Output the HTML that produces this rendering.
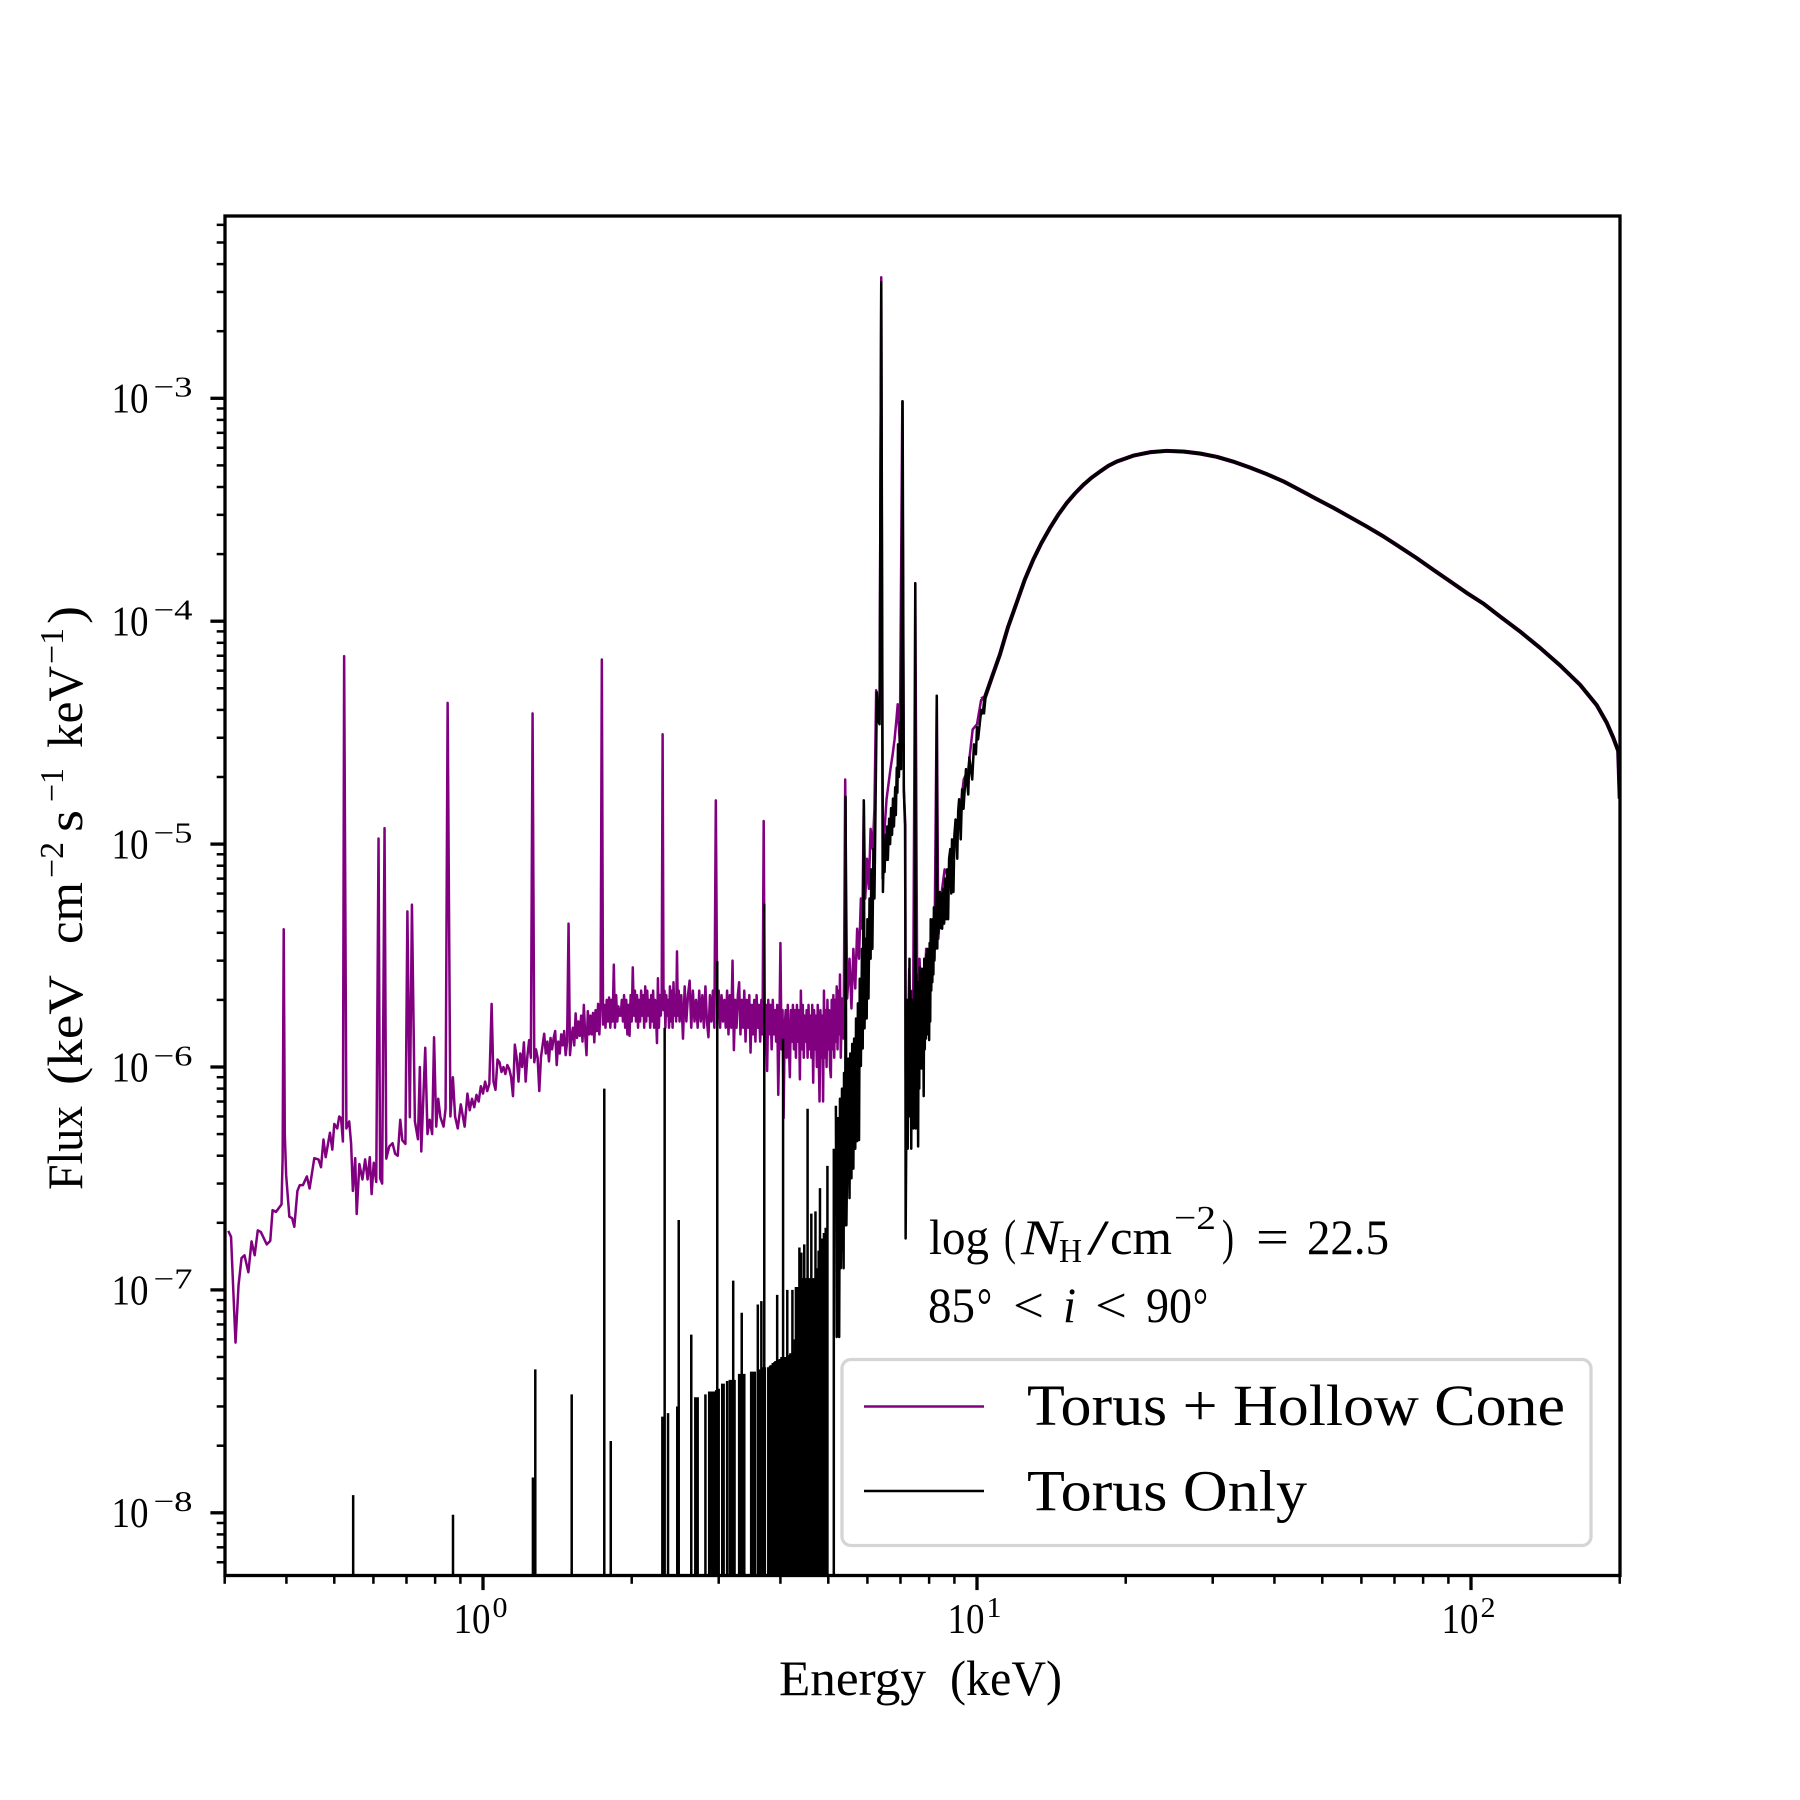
<!DOCTYPE html>
<html lang="en"><head><meta charset="utf-8"><title>X-ray spectrum</title>
<style>
html,body{margin:0;padding:0;background:#fff;width:1800px;height:1800px;overflow:hidden}
svg{display:block;overflow:hidden}
text{font-family:"Liberation Serif",serif;fill:#000}
</style></head>
<body>
<svg id="chart" xmlns="http://www.w3.org/2000/svg" width="1800" height="1800" viewBox="0 0 1800 1800">
<defs><clipPath id="plot-clip"><rect x="225" y="216" width="1395" height="1359.5"/></clipPath></defs>
<rect x="0" y="0" width="1800" height="1800" fill="#fff"/>
<g id="series" clip-path="url(#plot-clip)"></g>
<g id="ticks"></g>
<rect x="225" y="216" width="1395" height="1359.5" fill="none" stroke="#000" stroke-width="3.3"/>

<g font-size="50">
<text x="779" y="1695" textLength="147" lengthAdjust="spacingAndGlyphs">Energy</text>
<text x="950" y="1695" textLength="112" lengthAdjust="spacingAndGlyphs">(keV)</text>
</g>

<g font-size="50">
<text transform="translate(82,1190) rotate(-90)" textLength="84" lengthAdjust="spacingAndGlyphs">Flux</text>
<text transform="translate(82,1085) rotate(-90)" textLength="110" lengthAdjust="spacingAndGlyphs">(keV</text>
<text transform="translate(82,944) rotate(-90)" textLength="62" lengthAdjust="spacingAndGlyphs">cm</text>
<text font-size="34" transform="translate(63,878) rotate(-90)" textLength="36" lengthAdjust="spacingAndGlyphs">−2</text>
<text transform="translate(82,832) rotate(-90)" textLength="22" lengthAdjust="spacingAndGlyphs">s</text>
<text font-size="34" transform="translate(63,802) rotate(-90)" textLength="34" lengthAdjust="spacingAndGlyphs">−1</text>
<text transform="translate(82,748) rotate(-90)" textLength="82" lengthAdjust="spacingAndGlyphs">keV</text>
<text font-size="34" transform="translate(63,664) rotate(-90)" textLength="36" lengthAdjust="spacingAndGlyphs">−1</text>
<text transform="translate(82,624) rotate(-90)" textLength="18" lengthAdjust="spacingAndGlyphs">)</text>
</g>

<g font-size="50">
<text x="929" y="1254" textLength="60" lengthAdjust="spacingAndGlyphs">log</text>
<text x="1004" y="1254" textLength="12" lengthAdjust="spacingAndGlyphs">(</text>
<text x="1021" y="1254" font-style="italic" textLength="40" lengthAdjust="spacingAndGlyphs">N</text>
<text x="1059" y="1262" font-size="34" textLength="23" lengthAdjust="spacingAndGlyphs">H</text>
<text x="1087" y="1254" textLength="22" lengthAdjust="spacingAndGlyphs">/</text>
<text x="1110" y="1254" textLength="62" lengthAdjust="spacingAndGlyphs">cm</text>
<text x="1174" y="1229" font-size="34" textLength="42" lengthAdjust="spacingAndGlyphs">−2</text>
<text x="1222" y="1254" textLength="12" lengthAdjust="spacingAndGlyphs">)</text>
<text x="1256" y="1254" textLength="33" lengthAdjust="spacingAndGlyphs">=</text>
<text x="1307" y="1254" textLength="82" lengthAdjust="spacingAndGlyphs">22.5</text>
</g>
<g font-size="50">
<text x="928" y="1322" textLength="47" lengthAdjust="spacingAndGlyphs">85</text>
<text x="977" y="1322" textLength="15" lengthAdjust="spacingAndGlyphs">°</text>
<text x="1013" y="1322" textLength="31" lengthAdjust="spacingAndGlyphs">&lt;</text>
<text x="1063" y="1322" font-style="italic" textLength="13" lengthAdjust="spacingAndGlyphs">i</text>
<text x="1095" y="1322" textLength="32" lengthAdjust="spacingAndGlyphs">&lt;</text>
<text x="1146" y="1322" textLength="46" lengthAdjust="spacingAndGlyphs">90</text>
<text x="1193" y="1322" textLength="15" lengthAdjust="spacingAndGlyphs">°</text>
</g>

<g>
<rect x="842" y="1359.5" width="749" height="186" rx="9" ry="9" fill="#fff" fill-opacity="0.8" stroke="#d5d5d5" stroke-width="3.3"/>
<line x1="864" y1="1406.5" x2="984" y2="1406.5" stroke="#800080" stroke-width="2.5"/>
<text x="1027" y="1425" font-size="58" textLength="538" lengthAdjust="spacingAndGlyphs">Torus + Hollow Cone</text>
<line x1="864" y1="1491" x2="984" y2="1491" stroke="#000" stroke-width="2.5"/>
<text x="1027" y="1510.5" font-size="58" textLength="280" lengthAdjust="spacingAndGlyphs">Torus Only</text>
</g>
</svg>

<script>
// Axis tick data
const xTickExponents = [0, 1, 2];
const yTickExponents = [-3, -4, -5, -6, -7, -8];
const xMinorDecades = [-1, 0, 1, 2];
const yMinorDecades = [-9, -8, -7, -6, -5, -4, -3];
const minorMultipliers = [2, 3, 4, 5, 6, 7, 8, 9];

// Torus + Hollow Cone, soft end: energy in keV, flux
const purpleLowEnergy = [
.305,.309,.3155,.32,.3245,.329,.335,.34,.345,.35,
.355,.365,.371,.375,.381,.391,.393,.395,.397,.3995,
.4055,.4107,.415,.421,.4256,.432,.44,.4456,.4555,.4645,
.47,.4754,.4803,.49,.4954,.5,.507,.5116,.516,.5205,
.5235,.529,.536,.5408,.5452,.5512,.555,.562,.57,.5773,
.584,.59,.595,.601,.608,.6145,.619,.625,.632,.637,
.646,.656,.664,.672,.68,.6866,.6966,.703,.711,.718,
.728,.7385,.745,.75,.764,.772,.78,.789,.796,.804,
.8116,.82,.832,.84,.848,.859,.869,.878,.889,.9017,
.918,.93,.94,.95,.96,.97,.98,.99,1.0,1.01,
1.02,1.03,1.041,1.05,1.06];
const purpleLowFlux = [
1.84e-7,1.73e-7,5.8e-8,1.05e-7,1.39e-7,1.43e-7,1.2e-7,1.65e-7,1.43e-7,1.85e-7,
1.82e-7,1.6e-7,1.66e-7,2.28e-7,2.24e-7,2.42e-7,3.9e-7,4.15e-6,5e-7,3.27e-7,
2.13e-7,2.1e-7,1.92e-7,2.78e-7,2.95e-7,2.95e-7,3.23e-7,2.85e-7,3.9e-7,3.85e-7,
3.55e-7,4.73e-7,3.94e-7,5.07e-7,4.26e-7,5.55e-7,5.3e-7,6e-7,5.9e-7,4.63e-7,
6.97e-5,5.3e-7,5.7e-7,4.52e-7,2.78e-7,3.9e-7,2.19e-7,3.67e-7,3.13e-7,3.85e-7,
3.13e-7,3.94e-7,2.69e-7,3.72e-7,3.05e-7,1.06e-5,3.17e-7,3e-7,1.18e-5,3.88e-7,
4.4e-7,4.55e-7,4.08e-7,4e-7,5.8e-7,4.69e-7,4.52e-7,4.99e-6,5.95e-7,5.35e-6,
5.7e-7,4.74e-7,1e-6,4.18e-7,1.22e-6,5e-7,5.8e-7,5e-7,1.36e-6,5.4e-7,
7.2e-7,5.95e-7,5.4e-7,6.5e-7,4.3e-5,6e-7,9e-7,6e-7,5.3e-7,6.8e-7,
5.4e-7,7.6e-7,6.4e-7,7.2e-7,6.6e-7,7.5e-7,7e-7,8.2e-7,7.6e-7,8.6e-7,
7.8e-7,8.4e-7,1.92e-6,8.6e-7,7.9e-7];

// Flux unit for the two plateau arrays below
const bandFluxUnit = 1e-6;

// Torus + Hollow Cone, rising shoulder: energy in keV, flux in bandFluxUnit
const purpleMidEnergy = [
1.07,1.08,1.09,1.10,1.11,1.12,1.13,1.14,1.15,1.16,
1.17,1.18,1.19,1.20,1.21,1.22,1.23,1.24,1.25,1.26,
1.27,1.28,1.29,1.30,1.31,1.32,1.33,1.34,1.35,1.36,
1.37,1.38,1.39,1.40,1.41,1.42,1.43,1.44,1.45,1.46,
1.47,1.48,1.49,1.50,1.51,1.52,1.53,1.54,1.55,1.56,
1.57,1.58,1.59,1.60,1.61,1.62,1.63,1.64,1.65,1.66,
1.67,1.68,1.69,1.70,1.71,1.72,1.73,1.74,1.75,1.76,
1.77,1.78,1.79,1.80,1.81,1.82,1.83,1.84,1.85,1.86,
1.87,1.88,1.89];
const purpleMidFlux = [
1.08,1.05,.95,1.0,.93,1.02,.98,.9,.74,1.26,
1.1,.86,1.15,1.0,1.29,.86,1.12,1.32,1.1,38.6,
1.05,1.2,1.1,.78,1.1,1.25,1.41,1.15,1.3,1.06,
1.35,1.2,1.35,1.45,1.02,1.3,1.15,1.4,1.25,1.45,
1.13,1.3,4.4,1.13,1.35,1.5,1.25,1.74,1.35,1.6,
1.38,1.7,1.3,1.9,1.4,1.13,1.78,1.4,1.7,1.4,
1.75,1.29,1.8,1.45,1.92,1.4,1.85,67.3,1.55,1.9,
1.5,2.0,1.6,2.05,1.5,2.0,1.6,2.88,1.5,2.1,
1.6,1.87,1.7];

// Torus + Hollow Cone, noisy plateau: energy in keV, flux in bandFluxUnit
const purpleBandEnergy = [
1.90,1.91,1.92,1.93,1.94,1.95,1.96,1.97,1.98,1.99,
2.00,2.01,2.02,2.03,2.04,2.05,2.06,2.07,2.08,2.09,
2.10,2.11,2.12,2.13,2.14,2.15,2.16,2.17,2.18,2.19,
2.20,2.21,2.22,2.23,2.24,2.25,2.26,2.27,2.28,2.29,
2.30,2.31,2.32,2.33,2.34,2.35,2.36,2.37,2.38,2.39,
2.40,2.41,2.42,2.43,2.44,2.45,2.46,2.47,2.48,2.49,
2.50,
2.52,2.54,2.56,2.58,2.60,2.62,2.64,2.66,2.68,2.70,
2.72,2.74,2.76,2.78,2.80,2.82,2.84,2.86,2.88,2.90,
2.92,2.94,2.96,2.98,3.00,3.02,3.04,3.06,3.08,3.10,
3.12,3.14,3.16,3.18,3.20,3.22,3.24,3.26,3.28,3.30,
3.32,3.34,3.36,3.38,3.40,3.42,3.44,3.46,3.48,3.50,
3.52,3.54,3.56,3.58,3.60,3.62,3.64,3.66,3.68,3.70,
3.72,3.74,3.76,3.78,3.80,3.82,3.84,3.86,3.88,3.90,
3.92,3.94,3.96,3.98,4.00,4.02,4.04,4.06,4.08,4.10,
4.12,4.14,4.16,4.18,4.20,4.22,4.24,4.26,4.28,4.30,
4.32,4.34,4.36,4.38,4.40,4.42,4.44,4.46,4.48,4.50,
4.52,4.54,4.56,4.58,4.60,4.62,4.64,4.66,4.68,4.70,
4.72,4.74,4.76,4.78,4.80,4.82,4.84,4.86,4.88,4.90,
4.92,4.94,4.96,4.98,5.00,5.02,5.04,5.06,5.08,5.10,
5.12,5.14,5.16,5.18,5.20,5.22,5.24,5.26,5.28,5.30];
const purpleBandFlux = [
1.7,2.0,1.6,2.1,1.5,2.0,1.4,1.9,1.38,2.1,
1.6,2.8,1.7,2.2,1.6,2.1,1.5,2.0,1.6,2.2,
1.7,2.1,1.5,2.3,1.6,2.2,1.7,2.0,1.5,2.1,
1.6,2.2,1.5,2.0,1.7,1.28,2.5,1.5,2.1,1.7,
2.0,31.1,1.8,2.2,1.5,2.1,1.7,2.0,1.5,2.3,
1.6,2.2,1.5,2.4,1.7,2.1,1.6,3.3,1.7,2.2,
1.6,
2.1,1.34,2.3,1.6,2.1,2.44,1.5,2.2,1.6,2.0,
1.5,2.2,1.6,2.1,1.5,2.3,1.6,1.36,2.1,1.6,
2.2,1.5,15.7,1.7,2.2,1.5,2.1,1.6,2.0,1.5,
2.2,1.4,2.1,1.5,3.0,1.19,2.0,1.5,2.1,2.4,
1.4,2.0,1.5,2.2,1.3,2.0,1.5,2.1,1.16,1.9,
1.4,2.0,1.3,2.1,1.5,1.9,1.3,2.0,1.4,12.7,
1.4,1.9,0.96,2.0,1.4,1.9,1.2,2.0,1.4,1.8,
1.3,1.9,0.75,1.4,3.6,1.2,1.8,0.59,1.5,1.8,
1.1,1.9,1.3,0.9,1.8,1.3,1.9,1.2,1.8,1.1,
1.9,1.3,1.8,0.88,2.2,1.2,1.9,1.1,1.7,1.3,
1.8,1.1,1.9,1.2,1.7,1.1,1.9,0.85,1.8,1.2,
1.7,1.0,1.9,1.2,0.7,1.8,1.1,1.7,0.7,2.2,
1.1,1.8,1.0,2.0,1.2,1.8,1.0,0.9,2.0,1.2,
2.1,1.1,2.0,1.3,2.3,1.2,2.2,1.4,2.6,1.1];

// Torus + Hollow Cone, iron complex and rise
const purpleRiseEnergy = [
5.33,5.37,5.41,5.46,5.52,5.57,5.62,5.67,5.72,5.77,
5.82,5.86,5.90,5.94,5.99,6.04,6.09,6.15,6.20,6.25,
6.30,6.35,6.40,6.44,6.50,6.56,6.62,6.68,6.75,6.81,
6.87,6.91,6.98,7.06,7.11,7.16,7.17,7.18,7.22,7.29,
7.36,7.43,7.50,7.57,7.65,7.77,7.89,8.0,8.1,8.2,
8.29,8.35,8.45,8.6,8.8,9,9.2,9.4,9.6,9.8,
10,10.2];
const purpleRiseFlux = [
2.03e-6,1.34e-6,1.95e-5,2.03e-6,3.06e-6,1.83e-6,3.39e-6,2.25e-6,4.17e-6,3.06e-6,
5.7e-6,4.17e-6,1.57e-5,5.7e-6,8.6e-6,6.3e-6,1.17e-5,9.5e-6,1.44e-5,4.9e-5,
3.82e-5,3.63e-5,3.49e-3,7e-6,1.17e-5,1.59e-5,1.86e-5,2.17e-5,2.53e-5,2.95e-5,
3.63e-5,4.24e-5,2.8e-5,9.7e-4,1.76e-5,1.21e-5,1e-6,6.9e-7,7.2e-7,2.76e-6,
8.9e-7,2.25e-6,1.48e-4,1.83e-6,3.06e-6,1.34e-6,3.39e-6,2.03e-6,3.97e-6,3.06e-6,
4.63e-5,3.76e-6,5.7e-6,7.7e-6,7e-6,1.05e-5,1.29e-5,1.95e-5,2.17e-5,3.27e-5,
3.45e-5,4.47e-5];

// Hard continuum shared by both models
const continuumEnergy = [
10.38,10.75,11.13,11.55,12.03,12.5,13,13.5,14.05,14.6,
15.19,15.8,16.42,17.05,17.74,18.45,19.18,20.72,22.4,24.2,
26.2,28.3,30.6,33,35.7,38.6,41.7,45.1,48.7,52.6,
56.9,61.5,66.5,71.8,77.6,83.9,90.7,98,105.9,114.5,
125.6,138,151.4,166.2,179.7,188.2,194.1,198.6,200];
const continuumFlux = [
4.56e-5,5.71e-5,7.1e-5,9.38e-5,1.21e-4,1.54e-4,1.89e-4,2.24e-4,2.62e-4,3e-4,
3.39e-4,3.75e-4,4.09e-4,4.4e-4,4.69e-4,4.98e-4,5.2e-4,5.53e-4,5.73e-4,5.81e-4,
5.77e-4,5.65e-4,5.46e-4,5.2e-4,4.89e-4,4.57e-4,4.24e-4,3.87e-4,3.53e-4,3.23e-4,
2.93e-4,2.66e-4,2.4e-4,2.15e-4,1.92e-4,1.7e-4,1.51e-4,1.34e-4,1.2e-4,1.05e-4,
9e-5,7.59e-5,6.34e-5,5.19e-5,4.2e-5,3.51e-5,3e-5,2.62e-5,1.6e-5];

// Torus Only: sparse bins whose neighbours are empty (drawn down past the axis)
const blackEmptyBinFlux = 5e-9;
const blackStemEnergy = [
.546,.8695,1.262,1.276,1.512,1.76,1.814,2.307,2.332,2.369,
2.473,2.49,2.64,2.69,2.705,2.72,2.82,2.87,2.885,2.90,
2.915,2.93,2.94,2.95,2.965,2.98,3.0,3.05,3.06,3.07,
3.12,3.16,3.175,3.19,3.20,3.21,3.23,3.30,3.315,3.34,
3.355,3.38,3.49,3.505,3.52,3.535,3.55,3.60,3.615,3.63,
3.645,3.66,3.68,3.71,3.72,3.78,3.795,3.81,3.825,3.84,
3.86,3.875,3.89,3.91,3.94,3.96,3.99,4.02,4.05,4.07,
4.10,4.13,4.16,4.19,4.23,4.25,4.28,4.30,4.33,4.37,
4.41,4.45,4.47,4.52,4.54,4.58,4.62,4.66,4.71,4.74,
4.78,4.81,4.86,4.90,4.94,4.98,5.13];
const blackStemFlux = [
1.2e-8,.98e-8,1.44e-8,4.4e-8,3.4e-8,8e-7,2.1e-8,2.7e-8,1.5e-6,2.8e-8,
3e-8,2.06e-7,6.3e-8,3.3e-8,3.3e-8,3.3e-8,3.4e-8,3.5e-8,3.5e-8,3.5e-8,
3.5e-8,3.5e-8,3.5e-8,3.5e-8,3.55e-8,2.98e-6,3.6e-8,3.8e-8,3.8e-8,3.8e-8,
3.9e-8,3.95e-8,3.95e-8,3.95e-8,3.95e-8,1.1e-7,3.95e-8,4.2e-8,4.2e-8,7.9e-8,
4.2e-8,4.2e-8,4.3e-8,4.3e-8,4.3e-8,4.3e-8,4.3e-8,8.6e-8,4.4e-8,4.4e-8,
4.4e-8,8.9e-8,4.5e-8,5.4e-6,4.5e-8,4.5e-8,4.5e-8,4.55e-8,4.6e-8,4.6e-8,
4.7e-8,4.7e-8,4.75e-8,4.8e-8,9.5e-8,4.85e-8,4.9e-8,5e-8,1.34e-6,5e-8,
5e-8,1e-7,5.1e-8,5.2e-8,1e-7,5.2e-8,6e-8,1.03e-7,1.03e-7,1.55e-7,
1.47e-7,1.13e-7,1.6e-7,1.13e-7,6.5e-7,1.13e-7,2.2e-7,1.13e-7,2.25e-7,1.25e-7,
1.5e-7,2.86e-7,1.7e-7,1.8e-7,1.9e-7,3.6e-7,4.3e-7];

// Torus Only: noisy rise through the iron complex
const blackBandEnergy = [
5.18,5.20,5.23,5.26,5.28,5.30,5.33,5.37,5.38,5.41,
5.42,5.44,5.49,5.52,5.54,5.57,5.59,5.62,5.64,5.67,
5.69,5.72,5.74,5.77,5.79,5.82,5.85,5.87,5.90,5.92,
5.95,5.98,6.00,6.03,6.06,6.09,6.11,6.14,6.17,6.20,
6.27,6.30,6.35,6.40,6.45,6.48,6.50,6.53,6.56,6.58,
6.60,6.64,6.67,6.70,6.73,6.76,6.79,6.83,6.85,6.88,
6.90,6.92,6.95,6.99,7.02,7.07,7.11,7.15,7.16,7.17,
7.22,7.24,7.26,7.28,7.30,7.32,7.34,7.36,7.38,7.40,
7.42,7.44,7.46,7.48,7.50,7.52,7.54,7.56,7.58,7.60,
7.62,7.64,7.66,7.68,7.70,7.72,7.74,7.76,7.78,7.80,
7.82,7.84,7.86,7.88,7.90,7.92,7.94,7.96,7.98,8.00,
8.02,8.04,8.06,8.08,8.10,8.12,8.14,8.16,8.18,8.20,
8.22,8.24,8.26,8.29,8.31,8.33,8.35,8.40,8.43,8.47,
8.50,8.55,8.58,8.62,8.66,8.70,8.74,8.78,8.83,8.87,
8.90,8.96,9.00,9.05,9.12,9.16,9.20,9.27,9.33,9.39,
9.50,9.60,9.65,9.78,9.86,9.95,10.0,10.05,10.2,10.3];
const blackBandFlux = [
6.7e-7,6.15e-8,5.9e-7,6.15e-8,7.2e-7,1.25e-7,8e-7,1.25e-7,9.4e-7,1.95e-7,
1.63e-5,1.95e-7,1.09e-6,2.58e-7,1.15e-6,3.17e-7,1.27e-6,3.5e-7,1.34e-6,4.3e-7,
1.65e-6,4.65e-7,1.93e-6,4.7e-7,2.49e-6,1.01e-6,3.39e-6,1.21e-6,1.57e-5,1.49e-6,
3.76e-6,1.65e-6,4.6e-6,2.03e-6,5.7e-6,3.06e-6,7.7e-6,3.39e-6,9.5e-6,5.7e-6,
4.8e-5,3.63e-5,3.45e-5,3.32e-3,6.1e-6,1e-5,7.5e-6,1.1e-5,8.5e-6,1.2e-5,
8.5e-6,1.3e-5,1e-5,1.45e-5,1.1e-5,1.6e-5,1.2e-5,1.8e-5,1.35e-5,2.2e-5,
1.7e-5,2.8e-5,2e-5,3.5e-5,2.17e-5,9.7e-4,1.76e-5,1.21e-5,4.6e-6,1.7e-7,
2e-6,4.3e-7,1.6e-6,6e-7,3.06e-6,7e-7,2.2e-6,4.3e-7,2e-6,9e-7,
1.83e-6,5.3e-7,2.2e-6,6e-7,1.48e-4,5.3e-7,2.6e-6,7e-7,2.03e-6,4.4e-7,
2.4e-6,8e-7,2.8e-6,1e-6,2.6e-6,9.85e-7,2.76e-6,1.1e-6,2.5e-6,7.4e-7,
3.06e-6,1.2e-6,2.6e-6,1.34e-6,3.2e-6,1.4e-6,3.39e-6,1.6e-6,3e-6,1.32e-6,
3.6e-6,1.6e-6,4.6e-6,2.2e-6,4e-6,2.4e-6,4.6e-6,2.6e-6,5.2e-6,3e-6,
4.6e-6,3.39e-6,5e-6,4.63e-5,3.4e-6,5.5e-6,3.97e-6,6.1e-6,4.2e-6,6e-6,
4.17e-6,6.3e-6,4.4e-6,7e-6,4.6e-6,7.7e-6,4.6e-6,8.6e-6,9.5e-6,6e-6,
1.05e-5,6.1e-6,1.1e-5,1.29e-5,8.6e-6,1.4e-5,1.59e-5,1.05e-5,1.76e-5,1.44e-5,
2.17e-5,1.67e-5,2.45e-5,1.95e-5,2.8e-5,2.53e-5,3.35e-5,2.95e-5,4e-5,3.82e-5];

// Axis functions
const SVGNS = 'http://www.w3.org/2000/svg';
function xScale(energy){ return 483 + 494 * Math.log10(energy); }
function yScale(flux){ return 398.3 + (-3 - Math.log10(flux)) * 222.9; }
const xMinEnergy = 0.3, xMaxEnergy = 200;
const plotBottom = 1575.5, plotLeft = 225;

function linePath(energies, fluxes, scale){
  const n = Math.min(energies.length, fluxes.length);
  let d = '';
  for (let i = 0; i < n; i++) {
    d += (i ? 'L' : 'M') + xScale(energies[i]).toFixed(2) + ' ' + yScale(fluxes[i] * (scale || 1)).toFixed(2);
  }
  return d;
}
function continuePath(energies, fluxes, scale){
  return linePath(energies, fluxes, scale).replace(/^M/, 'L');
}

const seriesGroup = document.getElementById('series');
const tickGroup = document.getElementById('ticks');

// Purple series
const purplePath = document.createElementNS(SVGNS, 'path');
purplePath.setAttribute('d', linePath(purpleLowEnergy, purpleLowFlux) + continuePath(purpleMidEnergy, purpleMidFlux, bandFluxUnit) + continuePath(purpleBandEnergy, purpleBandFlux, bandFluxUnit) + continuePath(purpleRiseEnergy, purpleRiseFlux));
purplePath.setAttribute('fill', 'none');
purplePath.setAttribute('stroke', '#800080');
purplePath.setAttribute('stroke-width', '2.5');
purplePath.setAttribute('stroke-linejoin', 'round');


seriesGroup.appendChild(purplePath);

const purpleContinuum = document.createElementNS(SVGNS, 'path');
purpleContinuum.setAttribute('d', 'M' + xScale(purpleRiseEnergy[purpleRiseEnergy.length - 1]).toFixed(2) + ' ' + yScale(purpleRiseFlux[purpleRiseFlux.length - 1]).toFixed(2) + continuePath(continuumEnergy, continuumFlux));
purpleContinuum.setAttribute('fill', 'none');
purpleContinuum.setAttribute('stroke', '#800080');
purpleContinuum.setAttribute('stroke-width', '4.1');
purpleContinuum.setAttribute('stroke-linejoin', 'round');


seriesGroup.appendChild(purpleContinuum);

// Black series: sparse bins
let stemD = '';
const stemCount = Math.min(blackStemEnergy.length, blackStemFlux.length);
for (let i = 0; i < stemCount; i++) {
  const sx = xScale(blackStemEnergy[i]).toFixed(2);
  stemD += 'M' + sx + ' ' + yScale(blackEmptyBinFlux).toFixed(2) + 'L' + sx + ' ' + yScale(blackStemFlux[i]).toFixed(2);
}
const stemPath = document.createElementNS(SVGNS, 'path');
stemPath.setAttribute('d', stemD);
stemPath.setAttribute('fill', 'none');
stemPath.setAttribute('stroke', '#000');
stemPath.setAttribute('stroke-width', '2.5');


seriesGroup.appendChild(stemPath);

const blackBandPath = document.createElementNS(SVGNS, 'path');
blackBandPath.setAttribute('d', linePath(blackBandEnergy, blackBandFlux));
blackBandPath.setAttribute('fill', 'none');
blackBandPath.setAttribute('stroke', '#000');
blackBandPath.setAttribute('stroke-width', '2.5');
blackBandPath.setAttribute('stroke-linejoin', 'round');


seriesGroup.appendChild(blackBandPath);

const blackContinuum = document.createElementNS(SVGNS, 'path');
blackContinuum.setAttribute('d', 'M' + xScale(blackBandEnergy[blackBandEnergy.length - 1]).toFixed(2) + ' ' + yScale(blackBandFlux[blackBandFlux.length - 1]).toFixed(2) + continuePath(continuumEnergy, continuumFlux));
blackContinuum.setAttribute('fill', 'none');
blackContinuum.setAttribute('stroke', '#000');
blackContinuum.setAttribute('stroke-width', '3.6');
blackContinuum.setAttribute('stroke-linejoin', 'round');


seriesGroup.appendChild(blackContinuum);

// Ticks
function addTick(x1, y1, x2, y2, w, name){
  const t = document.createElementNS(SVGNS, 'line');
  t.setAttribute('x1', x1);
  t.setAttribute('y1', y1);
  t.setAttribute('x2', x2);
  t.setAttribute('y2', y2);
  t.setAttribute('stroke', '#000');
  t.setAttribute('stroke-width', w);
  
  
  tickGroup.appendChild(t);
}
function addLabel(x, y, str, size, len, name){
  const t = document.createElementNS(SVGNS, 'text');
  t.setAttribute('x', x);
  t.setAttribute('y', y);
  t.setAttribute('font-size', size);
  t.setAttribute('textLength', len);
  t.setAttribute('lengthAdjust', 'spacingAndGlyphs');
  t.textContent = str;
  
  
  tickGroup.appendChild(t);
}
xTickExponents.forEach(function(k){
  const px = xScale(Math.pow(10, k));
  addTick(px, plotBottom, px, plotBottom + 14.6, 3.3, 'x-major-tick');
  addLabel(px - 29.5, 1633, '10', 42, 37, 'x-tick-label');
  addLabel(px + 9.5, 1617, String(k), 29, 15, 'x-tick-exponent');
});
xMinorDecades.forEach(function(k){
  minorMultipliers.forEach(function(m){
    const v = m * Math.pow(10, k);
    if (v < xMinEnergy || v > xMaxEnergy) return;
    const px = xScale(v);
    addTick(px, plotBottom, px, plotBottom + 8.3, 2.5, 'x-minor-tick');
  });
});
yTickExponents.forEach(function(k){
  const py = yScale(Math.pow(10, k));
  addTick(plotLeft, py, plotLeft - 14.6, py, 3.3, 'y-major-tick');
  addLabel(111.5, py + 14.4, '10', 42, 37, 'y-tick-label');
  addLabel(153.5, py - 1.6, '−' + Math.abs(k), 29, 39, 'y-tick-exponent');
});
yMinorDecades.forEach(function(k){
  minorMultipliers.forEach(function(m){
    const py = yScale(m * Math.pow(10, k));
    if (py < 216 || py > plotBottom) return;
    addTick(plotLeft, py, plotLeft - 8.3, py, 2.5, 'y-minor-tick');
  });
});
</script>
</body></html>
